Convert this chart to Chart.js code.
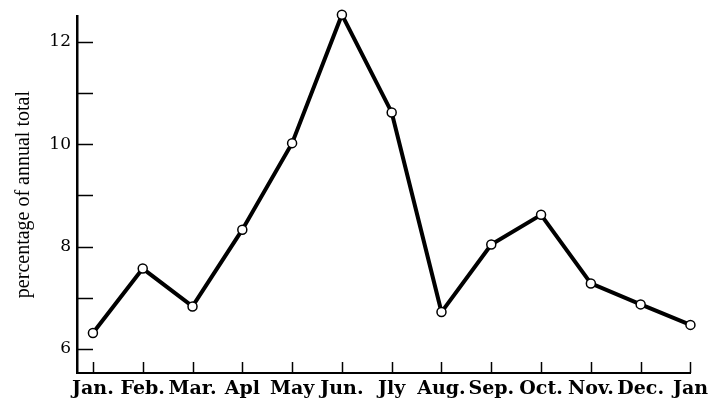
<!DOCTYPE html>
<html>
<head>
<meta charset="utf-8">
<script src="https://cdn.jsdelivr.net/npm/chart.js@4.4.1/dist/chart.umd.min.js"></script>
<style>
  body { margin: 0; background: #fff; }
  canvas { display: block; }
</style>
</head>
<body>
<canvas id="chart" width="713" height="401"></canvas>
<script>
var months = ["Jan.", "Feb.", "Mar.", "Apl", "May", "Jun.", "Jly", "Aug.", "Sep.", "Oct.", "Nov.", "Dec.", "Jan"];
var pct = [6.31, 7.57, 6.83, 8.33, 10.02, 12.53, 10.62, 6.72, 8.04, 8.62, 7.28, 6.87, 6.47];
var yTicks = [6, 7, 8, 9, 10, 11, 12];
var yLabels = ["6", "", "8", "", "10", "", "12"];

var serif = "'Liberation Serif', 'Times New Roman', serif";

// inward tick marks, placed through the scales
var innerTicks = {
  id: 'innerTicks',
  afterDraw: function(chart) {
    var c = chart.ctx, xs = chart.scales.x, ys = chart.scales.y;
    var area = chart.chartArea;
    c.save();
    c.strokeStyle = '#000';
    c.lineWidth = 1.5;
    yTicks.forEach(function(v) {
      var py = Math.round(ys.getPixelForValue(v)) + 0.5;
      c.beginPath();
      c.moveTo(area.left, py);
      c.lineTo(area.left + 16, py);
      c.stroke();
    });
    months.forEach(function(m, i) {
      var px = Math.round(xs.getPixelForValue(i)) + 0.5;
      c.beginPath();
      c.moveTo(px, area.bottom);
      c.lineTo(px, area.bottom - 11);
      c.stroke();
    });
    c.restore();
  }
};

var ctx = document.getElementById("chart");

var chart = new Chart(ctx, {
  type: 'line',
  data: {
    datasets: [{
      data: pct.map(function(v, i) { return { x: i, y: v }; }),
      borderColor: '#000',
      borderWidth: 4,
      tension: 0,
      clip: false,
      pointRadius: 4.5,
      pointBorderWidth: 1.5,
      pointBorderColor: '#000',
      pointBackgroundColor: '#fff'
    }]
  },
  options: {
    responsive: false,
    animation: false,
    layout: { padding: { top: 16, right: 21, left: 0, bottom: 0 } },
    plugins: {
      legend: { display: false },
      tooltip: { enabled: false }
    },
    scales: {
      x: {
        type: 'linear',
        min: -0.32,
        max: 12,
        afterBuildTicks: function(s) {
          s.ticks = months.map(function(m, i) { return { value: i }; });
        },
        afterFit: function(s) { s.height = 28; },
        grid: { drawOnChartArea: false, drawTicks: false },
        border: { display: true, color: '#000', width: 2 },
        ticks: {
          autoSkip: false,
          maxRotation: 0,
          padding: 5,
          color: '#000',
          font: { family: "'DejaVu Serif', serif", size: 19, weight: 'bold' },
          callback: function(v) { return months[v]; }
        }
      },
      y: {
        min: 5.53,
        max: 12.5,
        afterBuildTicks: function(s) {
          s.ticks = yTicks.map(function(v) { return { value: v }; });
        },
        afterFit: function(s) { s.width = 77; },
        grid: { drawOnChartArea: false, drawTicks: false },
        border: { display: true, color: '#000', width: 2.5 },
        ticks: {
          padding: 6,
          color: '#000',
          font: { family: "'DejaVu Serif', serif", size: 17 },
          callback: function(v) { return yLabels[yTicks.indexOf(v)]; }
        },
        title: {
          display: true,
          text: 'percentage of annual total',
          color: '#000',
          padding: { top: 12, bottom: 0 },
          font: { family: serif, size: 20 }
        }
      }
    }
  },
  plugins: [innerTicks]
});
</script>
</body>
</html>
